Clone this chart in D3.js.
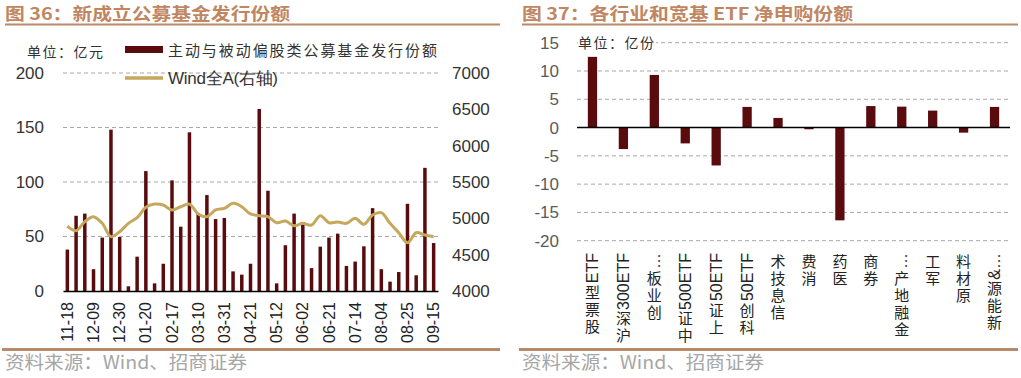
<!DOCTYPE html>
<html><head><meta charset="utf-8">
<script src="https://cdn.jsdelivr.net/npm/d3@7"></script>
<style>
html,body{margin:0;padding:0;background:#fff;}
svg{display:block;}
</style></head>
<body>
<svg id="c" width="1021" height="378"></svg>
<script>
// ---------- data: left chart ----------
const weeks = ["11-18","11-25","12-02","12-09","12-16","12-23","12-30","01-06","01-13","01-20","02-03","02-10","02-17","02-24","03-03","03-10","03-17","03-24","03-31","04-07","04-14","04-21","04-28","05-05","05-12","05-19","05-26","06-02","06-09","06-16","06-21","06-28","07-07","07-14","07-21","07-28","08-04","08-11","08-18","08-25","09-01","09-08","09-15"];
const weekTicks = ["11-18","12-09","12-30","01-20","02-17","03-10","03-31","04-21","05-12","06-02","06-21","07-14","08-04","08-25","09-15"];
const issuance = [38,69,71,20,49,148,49.5,4.3,31.5,110,7,25,101.5,59,145.6,71,88,66,67,18,15,25,167,92,7,42,71,61,21,40.7,49,52.6,23,27,41,76,20,8.6,17.4,80,14.4,113,44];
const windA = [4894,4830,4954,5023,4931,4748,4816,4931,5009,5152,5197,5183,5115,5160,5195,5060,5023,5115,5138,5206,5160,5060,5037,5023,4940,4963,4899,4931,4908,5037,4940,4950,4931,5000,4918,5046,5078,4931,4802,4665,4802,4770,4748];
const leftTicks = [0,50,100,150,200];
const rightTicks = [4000,4500,5000,5500,6000,6500,7000];

// ---------- data: right chart ----------
const etfCats = ["股票型ETF","沪深300ETF","创业板…","中证500ETF","上证50ETF","科创50ETF","信息技术","消费","医药","券商","金融地产…","军工","原材料","新能源&…"];
const etfNet = [12.5,-3.8,9.3,-2.8,-6.7,3.65,1.7,-0.3,-16.4,3.8,3.7,3.0,-0.9,3.65];
const etfTicks = [-20,-15,-10,-5,0,5,10,15];

const CJK = "'Noto Sans CJK SC','Noto Sans',sans-serif";
const LAT = "'Liberation Sans',Arial,sans-serif";
const BAR = "#5a0b0e", LINE = "#c6a85c", TITLE = "#c08662", RULE = "#b9896c", SRC = "#a6a6a6";

const svg = d3.select("#c");

// ---------- headers / footers ----------
function frame(x0, x1, title, titleX, titleW){
  svg.append("text").attr("x", titleX).attr("y", 20).attr("font-family", CJK).attr("font-weight", "bold")
    .attr("font-size", 17).attr("fill", TITLE).attr("textLength", titleW).attr("lengthAdjust", "spacingAndGlyphs").text(title);
  svg.append("line").attr("x1", x0).attr("x2", x1).attr("y1", 24.5).attr("y2", 24.5).attr("stroke", RULE).attr("stroke-width", 2);
  svg.append("line").attr("x1", x0 - 3).attr("x2", x1).attr("y1", 349.5).attr("y2", 349.5).attr("stroke", RULE).attr("stroke-width", 3);
  svg.append("text").attr("x", titleX).attr("y", 369).attr("font-family", CJK).attr("font-size", 18)
    .attr("fill", SRC).attr("textLength", 242).attr("lengthAdjust", "spacingAndGlyphs").text("资料来源：Wind、招商证券");
}
frame(5, 500, "图 36：新成立公募基金发行份额", 5, 285);
frame(522, 1018, "图 37：各行业和宽基 ETF 净申购份额", 522, 331);

// ---------- left chart ----------
const x = d3.scaleBand().domain(weeks).range([63, 438]).paddingInner(0.6).paddingOuter(0.3);
const y = d3.scaleLinear().domain([0, 200]).range([291, 73]);
const y2 = d3.scaleLinear().domain([4000, 7000]).range([291, 73]);

const L = svg.append("g");
L.append("g").selectAll("line").data(leftTicks.filter(d => d > 0)).join("line")
  .attr("x1", 63).attr("x2", 438).attr("y1", d => y(d)).attr("y2", d => y(d))
  .attr("stroke", "#a8a8a8").attr("stroke-dasharray", "4,3");
const ly = d3.axisLeft(y).tickValues(leftTicks).tickSize(0).tickPadding(0);
const gly = L.append("g").attr("transform", "translate(44,0)").call(ly);
gly.select(".domain").remove();
gly.selectAll("text").attr("font-family", LAT).attr("font-size", 17).attr("fill", "#333");
const ry = d3.axisRight(y2).tickValues(rightTicks).tickSize(0).tickPadding(0).tickFormat(d3.format("d"));
const gry = L.append("g").attr("transform", "translate(452,0)").call(ry);
gry.select(".domain").remove();
gry.selectAll("text").attr("font-family", LAT).attr("font-size", 17).attr("fill", "#333");
L.append("g").selectAll("rect").data(issuance).join("rect")
  .attr("x", (d, i) => x(weeks[i])).attr("width", x.bandwidth())
  .attr("y", d => y(d)).attr("height", d => y(0) - y(d)).attr("fill", BAR);
const line = d3.line().x((d, i) => x(weeks[i]) + x.bandwidth() / 2).y(d => y2(d)).curve(d3.curveCatmullRom.alpha(0.5));
L.append("path").datum(windA).attr("d", line).attr("fill", "none").attr("stroke", LINE).attr("stroke-width", 3);
const xa = d3.axisBottom(x).tickValues(weekTicks).tickSize(0).tickPadding(0);
const gxa = L.append("g").attr("transform", "translate(0,291)").call(xa);
gxa.select(".domain").attr("stroke", "#000").attr("stroke-width", 1.5);
gxa.selectAll("text").attr("font-family", LAT).attr("font-size", 16).attr("fill", "#222")
  .attr("text-anchor", "end").attr("transform", "rotate(-90)").attr("x", -11).attr("y", 0).attr("dy", "0.35em");
L.append("text").attr("x", 27).attr("y", 57).attr("font-family", CJK).attr("font-size", 14).attr("fill", "#333")
  .attr("textLength", 76).text("单位：亿元");
L.append("rect").attr("x", 125).attr("y", 46).attr("width", 38).attr("height", 7).attr("fill", BAR);
L.append("text").attr("x", 168).attr("y", 56).attr("font-family", CJK).attr("font-size", 15).attr("fill", "#333")
  .attr("textLength", 269).attr("lengthAdjust", "spacing").text("主动与被动偏股类公募基金发行份额");
L.append("line").attr("x1", 125).attr("x2", 163).attr("y1", 78).attr("y2", 78).attr("stroke", LINE).attr("stroke-width", 3.5);
L.append("text").attr("x", 168).attr("y", 84).attr("font-family", LAT).attr("font-size", 17).attr("fill", "#333")
  .attr("textLength", 110).attr("lengthAdjust", "spacing").text("Wind全A(右轴)");

// ---------- right chart ----------
const xb = d3.scaleBand().domain(etfCats).range([577, 1010]).paddingInner(0.7).paddingOuter(0.35);
const yb = d3.scaleLinear().domain([-20, 15]).range([240.7, 42.7]);
const R = svg.append("g");
R.append("g").selectAll("line").data(etfTicks.filter(d => d !== 0)).join("line")
  .attr("x1", 577).attr("x2", 1010).attr("y1", d => yb(d)).attr("y2", d => yb(d))
  .attr("stroke", "#a8a8a8").attr("stroke-dasharray", "4,3");
const by = d3.axisLeft(yb).tickValues(etfTicks).tickSize(0).tickPadding(0).tickFormat(d => String(d));
const gby = R.append("g").attr("transform", "translate(559,0)").call(by);
gby.select(".domain").remove();
gby.selectAll("text").attr("font-family", LAT).attr("font-size", 17).attr("fill", "#5a5a5a");
R.append("g").selectAll("rect").data(etfNet).join("rect")
  .attr("x", (d, i) => xb(etfCats[i])).attr("width", xb.bandwidth())
  .attr("y", d => yb(Math.max(0, d))).attr("height", d => Math.abs(yb(d) - yb(0))).attr("fill", BAR);
R.append("line").attr("x1", 577).attr("x2", 1010).attr("y1", yb(0)).attr("y2", yb(0)).attr("stroke", "#000").attr("stroke-width", 1.5);
R.append("rect").attr("x", 578).attr("y", 32).attr("width", 78).attr("height", 18).attr("fill", "#fff");
R.append("text").attr("x", 578).attr("y", 48).attr("font-family", CJK).attr("font-size", 14).attr("fill", "#333")
  .attr("textLength", 76).text("单位：亿份");

// vertical category labels (one text element each): CJK upright, Latin glyphs rotated -90
const isCJK = ch => /[\u3000-\u9fff\uff00-\uffef]/.test(ch);
const meas = R.append("text").attr("font-family", LAT).attr("font-size", 16).attr("x", -100).attr("y", -100);
const cw = ch => { meas.text(ch); return meas.node().getComputedTextLength(); };
const labG = R.append("g");
etfCats.forEach(cat => {
  const cx = xb(cat) + xb.bandwidth() / 2;
  const runs = [];
  for (const ch of cat) {
    if (isCJK(ch)) runs.push({cjk: true, t: ch});
    else if (runs.length && !runs[runs.length - 1].cjk) runs[runs.length - 1].t += ch;
    else runs.push({cjk: false, t: ch});
  }
  const t = labG.append("text").attr("fill", "#222");
  let cur = 253;
  for (let k = runs.length - 1; k >= 0; k--) {
    const r = runs[k];
    if (r.cjk) {
      t.append("tspan").attr("x", cx - 7.5).attr("y", cur + 13.5)
        .attr("font-family", CJK).attr("font-size", 15).text(r.t);
      cur += 17;
    } else {
      const chars = [...r.t];
      const ws = chars.map(cw);
      const W = d3.sum(ws);
      let yy = cur + W;
      chars.forEach((ch, i) => {
        t.append("tspan").attr("x", cx + 5.5).attr("y", yy).attr("rotate", -90)
          .attr("font-family", LAT).attr("font-size", 16).text(ch);
        yy -= ws[i];
      });
      cur += W + 1;
    }
  }
});
meas.remove();
</script>
</body></html>
